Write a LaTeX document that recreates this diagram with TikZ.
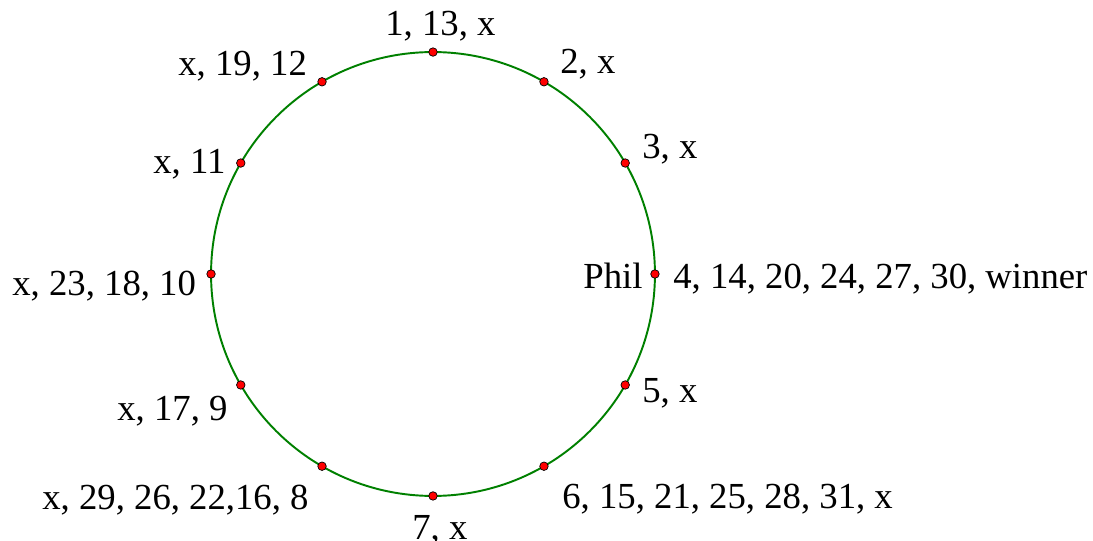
\documentclass[tikz,border=0pt]{standalone}
\usepackage{fontspec}
\setmainfont{Liberation Serif}
\usepackage{tikz}
\usetikzlibrary{positioning}
\definecolor{ringgreen}{RGB}{0,128,0}

\begin{document}
\begin{tikzpicture}[
  x=0.02cm, y=-0.02cm,
  ring/.style={draw=ringgreen, line width=1.1pt},
  seat/.style={circle, fill=red, draw=black, line width=0.4pt, minimum size=0.17cm, inner sep=0pt},
  lbl/.style={inner sep=0pt, anchor=base west, font=\fontsize{20.9}{25}\selectfont}
]
\useasboundingbox (0,0) rectangle (1093,541);
\coordinate (ctr) at (433,274);
\draw[ring] (ctr) circle[radius=4.44cm];
% twelve seats, clockwise from the top
\foreach \a [count=\i] in {90,60,30,0,-30,-60,-90,-120,-150,-180,-210,-240}
  \node[seat] (p\i) at ([shift={(\a:4.44cm)}]ctr) {};
\node[lbl] (l1) at (385,35) {1, 13, x};
\node[lbl] (l2) at (560,73) {2, x};
\node[lbl] (l3) at (642,158) {3, x};
\node[lbl] (phil) at (583,288) {Phil};
\node[lbl] (l4) at (673,288) {4, 14, 20, 24, 27, 30, winner};
\node[lbl] (l5) at (642,402) {5, x};
\node[lbl] (l6) at (562,508) {6, 15, 21, 25, 28, 31, x};
\node[lbl] (l7) at (412,539) {7, x};
\node[lbl] (l8) at (42,509) {x, 29, 26, 22,16, 8};
\node[lbl] (l9) at (117,420) {x, 17, 9};
\node[lbl] (l10) at (12,295) {x, 23, 18, 10};
\node[lbl] (l11) at (153,173) {x, 11};
\node[lbl] (l12) at (178,75) {x, 19, 12};
\end{tikzpicture}
\end{document}
